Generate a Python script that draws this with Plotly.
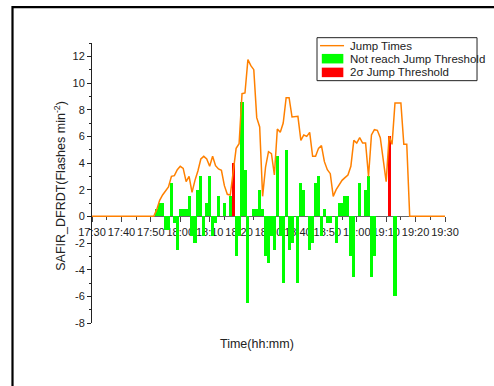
import plotly.graph_objects as go

# ---- data (minutes after 17:30) ----
tick_minutes = [0, 10, 20, 30, 40, 50, 60, 70, 80, 90, 100, 110, 120]
tick_labels = ["17:30", "17:40", "17:50", "18:00", "18:10", "18:20", "18:30",
               "18:40", "18:50", "19:00", "19:10", "19:20", "19:30"]
y_ticks = [-8, -6, -4, -2, 0, 2, 4, 6, 8, 10, 12]
y_tick_labels = ["-8", "-6", "-4", "-2", "0", "2", "4", "6", "8", "10", "12"]

line_minutes = [0, 21] + list(range(22, 109)) + [120]
line_values = [0, 0,
               0.5, 1.2, 1.6, 1.9, 2.2, 3.0, 3.05, 3.5, 3.75, 3.6,      # 22-31
               2.6, 3.0, 1.8, 2.7, 3.4, 4.3, 4.5, 4.3, 3.75, 4.5,       # 32-41
               3.8, 3.55, 3.45, 2.3, 1.65, 1.6, 3.6, 5.1, 5.45, 9.2,    # 42-51
               9.25, 11.75, 11.3, 11.0, 7.4, 6.7, 1.5, 3.7, 4.85, 4.7,  # 52-61
               3.1, 6.55, 6.3, 7.0, 8.9, 8.9, 7.45, 7.5, 7.5, 5.7,      # 62-71
               6.1, 6.0, 6.3, 4.5, 4.5, 5.1, 5.3, 4.1, 3.5, 3.2,        # 72-81
               1.5, 2.0, 2.4, 2.7, 2.9, 3.1, 3.75, 5.7, 5.5, 5.9,       # 82-91
               5.5, 5.5, 3.0, 6.1, 6.5, 6.45, 5.9, 4.4, 2.6, 6.0,       # 92-101
               5.4, 8.5, 8.5, 8.5, 5.4, 5.4, 0,                          # 102-108
               0]

green_minutes = [22, 23, 24, 25, 26, 27, 28, 29, 30, 31, 32, 33, 34, 35, 36, 37,
                 38, 39, 40, 41, 42, 43, 45, 47, 49, 50, 51, 52, 53, 55, 56, 57,
                 58, 59, 60, 61, 62, 63, 64, 65, 66, 67, 68, 70, 71, 72, 74, 75,
                 76, 77, 78, 79, 80, 81, 83, 84, 85, 86, 87, 88, 89, 91, 93, 94,
                 95, 96, 103]
green_values = [0.55, 1.0, 1.0, -1.0, -1.0, 2.5, -0.5, -2.5, 0.55, 0.55, 0.55, 1.55,
                -1.5, -2.0, 2.0, 3.0, -1.5, 1.0, 3.0, -1.5, -0.5, 1.55, 1.0, 1.55,
                -3.0, -1.5, 8.55, 3.5, -6.5, 0.55, 0.55, 2.0, 0.55, -3.0, -3.5, -1.5,
                -2.5, 4.55, -1.5, -5.0, 5.0, -2.5, -2.0, -5.0, 2.5, 2.0, -2.5, -2.0,
                2.5, 3.0, -1.5, 0.55, -0.5, -0.5, -2.0, 1.0, 1.0, 1.55, 1.55, -3.0,
                -4.55, 2.5, 2.0, 3.0, -4.55, -3.0, -6.0]

red_minutes = [48, 101]
red_values = [4.0, 6.0]

series_names = ["Jump Times", "Not reach Jump Threshold", "2σ Jump Threshold"]
ORANGE, GREEN, RED = "#FF8000", "#00FF00", "#FF0000"
FONT = "Liberation Sans, Arial, sans-serif"

fig = go.Figure()
fig.add_trace(go.Bar(x=green_minutes, y=green_values, width=1.05,
                     marker=dict(color=GREEN, line=dict(width=0)),
                     name=series_names[1], showlegend=False))
fig.add_trace(go.Bar(x=red_minutes, y=red_values, width=1.05,
                     marker=dict(color=RED, line=dict(width=0)),
                     name=series_names[2], showlegend=False))
fig.add_trace(go.Scatter(x=line_minutes, y=line_values, mode="lines",
                         line=dict(color=ORANGE, width=1.5),
                         name=series_names[0], showlegend=False))

fig.update_layout(
    width=494, height=386,
    margin=dict(l=92, r=49, t=43, b=63),
    paper_bgcolor="white", plot_bgcolor="white",
    barmode="overlay", bargap=0,
    font=dict(family=FONT, size=11, color="#222"),
    xaxis=dict(range=[0, 120], tickmode="array", tickvals=tick_minutes,
               ticktext=tick_labels, tickangle=0, ticks="outside", ticklen=5,
               tickwidth=1, tickcolor="#444", showline=True, linecolor="#666",
               linewidth=1, showgrid=False, zeroline=False, anchor="free",
               position=8/21, layer="below traces",
               tickfont=dict(size=11, color="#222"),
               minor=dict(tickmode="linear", tick0=0, dtick=5, ticks="outside",
                          ticklen=3, tickcolor="#444")),
    yaxis=dict(range=[-8, 13], tickmode="array", tickvals=y_ticks,
               ticktext=y_tick_labels, ticks="outside", ticklen=4, tickwidth=1,
               tickcolor="#222", showline=True, linecolor="#222", linewidth=1,
               showgrid=False, zeroline=False, tickfont=dict(size=11, color="#222"),
               minor=dict(tickmode="linear", tick0=0, dtick=1, ticks="outside",
                          ticklen=2, tickcolor="#222")),
)

# outer frame
fig.add_shape(type="rect", xref="paper", yref="paper", x0=-0.2252, x1=1.2,
              y0=-0.3, y1=1.128, line=dict(color="black", width=2.2),
              fillcolor="rgba(0,0,0,0)", layer="above")

# axis titles
fig.add_annotation(text="SAFIR_DFRDT(Flashes min<sup>-2</sup>)", xref="paper",
                   yref="paper", x=-0.119, y=0.49, textangle=-90, showarrow=False,
                   font=dict(size=12.5, color="#222", family=FONT))
fig.add_annotation(text="Time(hh:mm)", xref="paper", yref="paper", x=0.4674,
                   y=-0.1077, showarrow=False,
                   font=dict(size=12.5, color="#222", family=FONT))

# legend box (drawn manually)
lx0, lx1, ly0, ly1 = 0.6374, 1.0907, 0.8655, 1.0190
fig.add_shape(type="rect", xref="paper", yref="paper", x0=lx0, x1=lx1, y0=ly0,
              y1=ly1, line=dict(color="#222", width=1), fillcolor="white",
              layer="above")
rows = [0.9905, 0.944, 0.895]
fig.add_shape(type="line", xref="paper", yref="paper", x0=0.646, x1=0.714,
              y0=rows[0], y1=rows[0], line=dict(color=ORANGE, width=1.4),
              layer="above")
for yy, col in [(rows[1], GREEN), (rows[2], RED)]:
    fig.add_shape(type="rect", xref="paper", yref="paper", x0=0.651, x1=0.712,
                  y0=yy - 0.017, y1=yy + 0.017, line=dict(width=0),
                  fillcolor=col, layer="above")
for yy, name in zip(rows, series_names):
    fig.add_annotation(text=name, xref="paper", yref="paper", x=0.7243, y=yy,
                       xanchor="left", yanchor="middle", showarrow=False,
                       font=dict(size=11.5, color="#222", family=FONT))

fig.write_html("out.html")
